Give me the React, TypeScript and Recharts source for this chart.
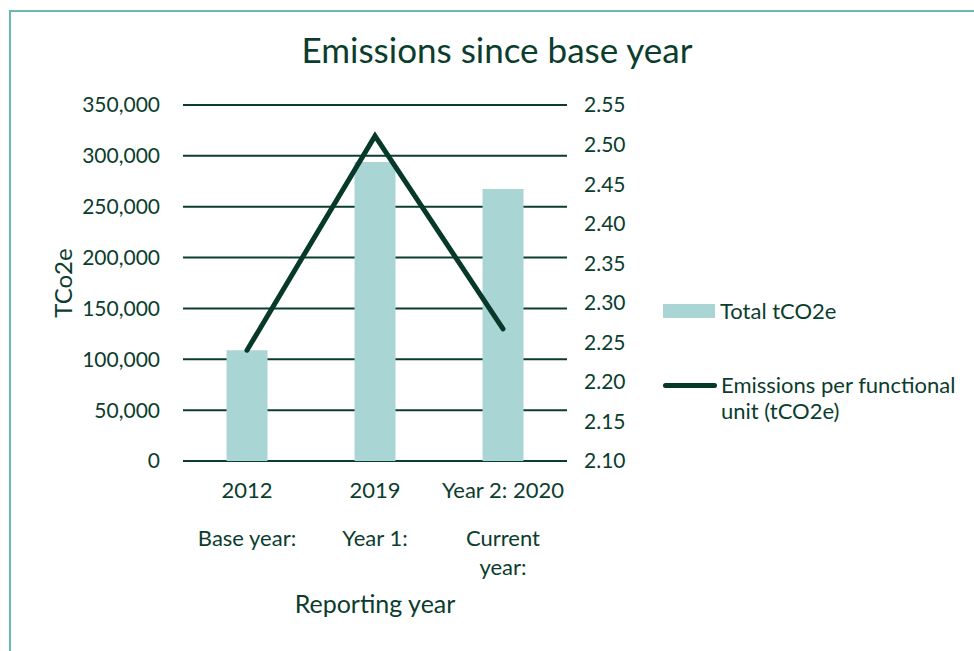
import React from "react";
import {
  ComposedChart,
  Bar,
  Line,
  XAxis,
  YAxis,
  CartesianGrid,
  Legend,
} from "recharts";

const years = ["2012", "2019", "Year 2: 2020"];
const yearLabels = [["Base year:"], ["Year 1:"], ["Current", "year:"]];
const totalTco2e = [109000, 294000, 267500];
const perUnit = [2.24, 2.511, 2.267];
const leftTicks = [0, 50000, 100000, 150000, 200000, 250000, 300000, 350000];
const rightTicks = [2.1, 2.15, 2.2, 2.25, 2.3, 2.35, 2.4, 2.45, 2.5, 2.55];

const data = years.map((y, i) => ({
  year: y,
  total: totalTco2e[i],
  perUnit: perUnit[i],
}));

const TEXT = "#0b3d2e";
const BAR = "#aad5d5";
const LINE = "#07392a";
const FONT = "Lato, 'Open Sans', sans-serif";

const YearTick = (props: any) => {
  const { x, y, payload } = props;
  const lines = yearLabels[payload.index] ?? [];
  return (
    <g>
      <text x={x} y={y} dy={29} textAnchor="middle" fill={TEXT} fontSize={22} fontFamily={FONT}>
        {payload.value}
      </text>
      {lines.map((l: string, i: number) => (
        <text key={i} x={x} y={y} dy={77 + i * 29} textAnchor="middle" fill={TEXT} fontSize={22} fontFamily={FONT}>
          {l}
        </text>
      ))}
    </g>
  );
};

const YLabel = (props: any) => {
  const { viewBox } = props;
  const cx = viewBox.x + 62;
  const cy = viewBox.y + viewBox.height / 2;
  return (
    <text
      x={cx}
      y={cy}
      transform={`rotate(-90 ${cx} ${cy})`}
      textAnchor="middle"
      dominantBaseline="central"
      fill={TEXT}
      fontSize={24}
      fontFamily={FONT}
    >
      TCo2e
    </text>
  );
};

const LegendContent = () => (
  <div style={{ fontFamily: FONT, fontSize: 22, color: TEXT, lineHeight: "26px" }}>
    <div style={{ display: "flex", alignItems: "center" }}>
      <span style={{ display: "inline-block", width: 52, height: 14, background: BAR, marginRight: 5 }} />
      <span>Total tCO2e</span>
    </div>
    <div style={{ display: "flex", alignItems: "flex-start", marginTop: 48 }}>
      <span style={{ display: "inline-block", width: 54, height: 5, borderRadius: 3, background: LINE, marginTop: 11, marginRight: 4 }} />
      <span>
        Emissions per functional
        <br />
        unit (tCO2e)
      </span>
    </div>
  </div>
);

export default function App() {
  return (
    <div style={{ position: "absolute", left: 0, top: 0, width: 974, height: 651, background: "#fff", overflow: "hidden" }}>
      <div
        style={{
          position: "absolute",
          left: 9,
          top: 10,
          width: 980,
          height: 660,
          border: "2px solid #6ab8ae",
          boxSizing: "border-box",
        }}
      />
      <div
        style={{
          position: "absolute",
          left: 0,
          width: 994,
          top: 28,
          textAlign: "center",
          fontFamily: FONT,
          fontSize: 35,
          color: TEXT,
        }}
      >
        Emissions since base year
      </div>
      <div style={{ position: "absolute", left: 0, top: 0 }}>
        <ComposedChart
          width={974}
          height={651}
          data={data}
          margin={{ top: 105, right: 0, bottom: 0, left: 0 }}
          barCategoryGap="34%"
        >
          <CartesianGrid vertical={false} stroke={TEXT} strokeWidth={2} yAxisId="left" />
          <XAxis
            dataKey="year"
            height={190}
            axisLine={false}
            tickLine={false}
            tick={<YearTick />}
            interval={0}
            label={{
              value: "Reporting year",
              position: "insideBottom",
              offset: 38,
              fill: TEXT,
              fontSize: 25,
              fontFamily: FONT,
            }}
          />
          <YAxis
            yAxisId="left"
            width={183}
            domain={[0, 350000]}
            ticks={leftTicks}
            axisLine={false}
            tickLine={false}
            tickMargin={17}
            tickFormatter={(v: number) => v.toLocaleString("en-US")}
            tick={{ fill: TEXT, fontSize: 21, fontFamily: FONT }}
            label={<YLabel />}
          />
          <YAxis
            yAxisId="right"
            orientation="right"
            width={407}
            domain={[2.1, 2.55]}
            ticks={rightTicks}
            axisLine={false}
            tickLine={false}
            tickMargin={11}
            tickFormatter={(v: number) => v.toFixed(2)}
            tick={{ fill: TEXT, fontSize: 21, fontFamily: FONT, textAnchor: "start" }}
          />
          <Bar yAxisId="left" dataKey="total" fill={BAR} isAnimationActive={false} />
          <Line
            yAxisId="right"
            type="linear"
            dataKey="perUnit"
            stroke={LINE}
            strokeWidth={5}
            strokeLinecap="round"
            strokeLinejoin="miter"
            dot={false}
            isAnimationActive={false}
          />
          <Legend
            layout="horizontal"
            verticalAlign="middle"
            width={320}
            content={<LegendContent />}
            wrapperStyle={{ left: 663, top: 298 }}
          />
        </ComposedChart>
      </div>
    </div>
  );
}
